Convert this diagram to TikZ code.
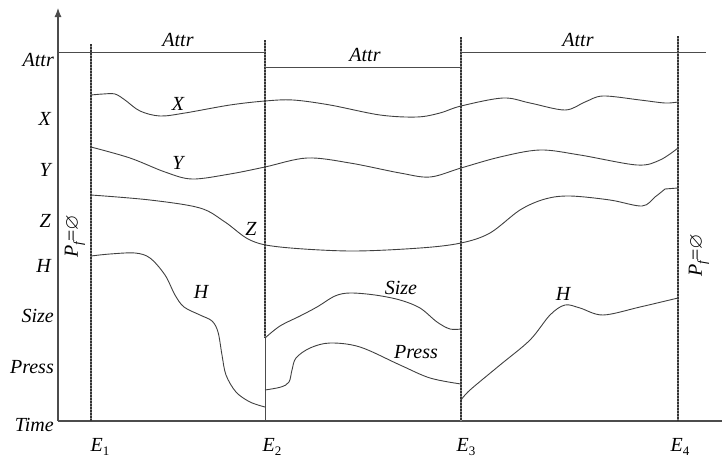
\documentclass[tikz,border=0pt]{standalone}
\usepackage{fontspec}
\usepackage{amssymb}
\setmainfont{Liberation Serif}
\usetikzlibrary{arrows.meta}
\begin{document}
\begin{tikzpicture}[x=1pt,y=-1pt,
  curve/.style={draw=black!75, line width=0.9pt, smooth, tension=0.55},
  axisline/.style={draw=black!70, line width=1.1pt},
  eventbase/.style={draw=black!45, line width=2.6pt},
  eventline/.style={draw=black!80, line width=2.6pt, dash pattern=on 1.5pt off 1.5pt},
  lab/.style={font=\fontsize{20}{22}\selectfont\itshape, inner sep=0pt},
  ylab/.style={lab, anchor=east}]
\useasboundingbox (0,0) rectangle (724,461);
% axes
\coordinate (O) at (58,421);
\coordinate (Ytop) at (58,8);
\coordinate (Xend) at (722,421);
\draw[axisline, -{Latex[length=9pt,width=7pt]}] (O) -- (Ytop);
\draw[axisline] (O) -- (Xend);
% event lines
\coordinate (E1t) at (91,44); \coordinate (E1b) at (91,421);
\coordinate (E2t) at (265,40); \coordinate (E2m) at (265,338); \coordinate (E2b) at (265,421);
\coordinate (E3t) at (461,37); \coordinate (E3b) at (461,421);
\coordinate (E4t) at (678,36); \coordinate (E4b) at (678,421);
\foreach \a/\b in {E1t/E1b, E2t/E2m, E3t/E3b, E4t/E4b}{
  \draw[eventbase] (\a) -- (\b);
  \draw[eventline] (\a) -- (\b);
}
\draw[axisline, line width=1pt] (E2m) -- (E2b);
% Attr segments
\coordinate (A1a) at (58,52); \coordinate (A1b) at (265,52);
\coordinate (A2a) at (265,67); \coordinate (A2b) at (461,67);
\coordinate (A3a) at (461,52); \coordinate (A3b) at (706,52);
\draw[axisline, line width=0.9pt] (A1a) -- (A1b);
\draw[axisline, line width=0.9pt] (A2a) -- (A2b);
\draw[axisline, line width=0.9pt] (A3a) -- (A3b);
\node[lab] (at1) at (178,40) {Attr};
\node[lab] (at2) at (365,55) {Attr};
\node[lab] (at3) at (578,40) {Attr};
% y labels
\node[ylab] (lAttr) at (54,60) {Attr};
\node[ylab] (lX) at (51,119) {X};
\node[ylab] (lY) at (51,170) {Y};
\node[ylab] (lZ) at (51,221) {Z};
\node[ylab] (lH) at (51,266) {H};
\node[ylab] (lSize) at (54,316) {Size};
\node[ylab] (lPress) at (54,367) {Press};
\node[ylab] (lTime) at (54,425) {Time};
% event labels
\newcommand{\evlab}[1]{{\itshape E}\raisebox{-0.45ex}{\fontsize{13}{13}\selectfont\upshape #1}}
\node[lab, font=\fontsize{20}{22}\selectfont] (e1) at (100,447) {\evlab{1}};
\node[lab, font=\fontsize{20}{22}\selectfont] (e2) at (272,447) {\evlab{2}};
\node[lab, font=\fontsize{20}{22}\selectfont] (e3) at (466,447) {\evlab{3}};
\node[lab, font=\fontsize{20}{22}\selectfont] (e4) at (680,447) {\evlab{4}};
% P_f = emptyset
\newcommand{\pfempty}{{\itshape P}\raisebox{-0.5ex}{\fontsize{13}{13}\selectfont\itshape f}{=}$\varnothing$}
\node[lab, font=\fontsize{20}{22}\selectfont, rotate=90] (pf1) at (75,236) {\pfempty};
\node[lab, font=\fontsize{20}{22}\selectfont, rotate=90] (pf2) at (699,255) {\pfempty};
% curves
\draw[curve] plot coordinates {(91,95) (103,94) (115,94) (125,100) (140,111) (160,116) (185,113) (230,105) (265,101) (293,100) (330,105) (380,115) (417,117) (440,113) (461,106) (503,98) (530,103) (565,110) (585,102) (603,96) (640,100) (665,103) (678,102)};
\draw[curve] plot coordinates {(91,147) (130,158) (165,172) (192,179) (230,174) (265,167) (307,158) (350,163) (400,173) (430,177) (461,168) (500,157) (540,150) (580,155) (637,165) (660,160) (678,148)};
\draw[curve] plot coordinates {(91,195) (150,200) (200,208) (225,222) (250,240) (280,247) (350,251) (420,248) (461,243) (490,233) (520,210) (545,199) (570,196) (610,200) (642,206) (655,197) (665,189)};
\draw[curve] plot coordinates {(665,189) (678,188)};
\draw[curve] plot coordinates {(91,256) (110,254) (135,253) (150,258) (165,275) (175,295) (184,307) (200,315) (212,321) (218,332) (222,355) (226,375) (236,392) (250,402) (265,407)};
\draw[curve] plot coordinates {(265,338) (280,326) (300,316) (317,307) (335,296) (350,293) (375,295) (400,300) (420,308) (437,322) (450,329) (461,329)};
\draw[curve] plot coordinates {(265,390) (281,387) (289,382) (292,370) (296,358) (310,348) (330,343) (360,347) (400,365) (430,378) (461,384)};
\draw[curve] plot coordinates {(461,400) (470,390) (500,365) (530,340) (550,315) (565,305) (580,308) (603,315) (640,307) (678,298)};
% curve labels
\node[lab] (cX) at (178,104) {X};
\node[lab] (cY) at (178,163) {Y};
\node[lab] (cZ) at (251,229) {Z};
\node[lab] (cH1) at (201,292) {H};
\node[lab] (cSize) at (401,288) {Size};
\node[lab] (cPress) at (416,352) {Press};
\node[lab] (cH3) at (563,294) {H};
\end{tikzpicture}
\end{document}
